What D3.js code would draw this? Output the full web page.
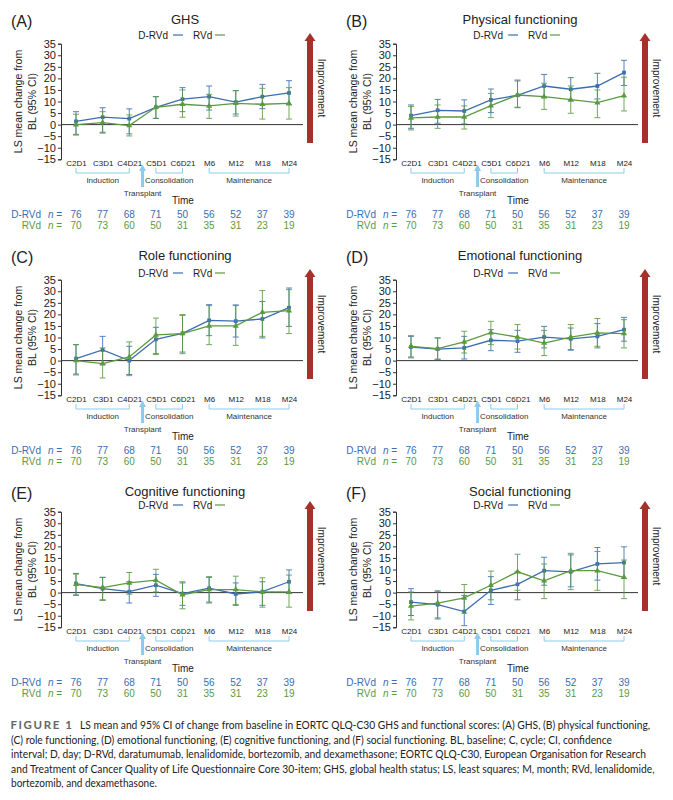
<!DOCTYPE html>
<html><head><meta charset="utf-8">
<script src="https://cdn.jsdelivr.net/npm/d3@7"></script>
<style>
body{margin:0;background:#fff}
svg{display:block;font-family:Arial,"Liberation Sans",sans-serif}
</style>
</head><body>
<svg id="c" width="673" height="800"></svg>
<script>
// ---------------- DATA ----------------
const categories = ["C2D1","C3D1","C4D21","C5D1","C6D21","M6","M12","M18","M24"];
const yTicks = [-15,-10,-5,0,5,10,15,20,25,30,35];
const nDRVd = [76,77,68,71,50,56,52,37,39];
const nRVd  = [70,73,60,50,31,35,31,23,19];
const seriesNames = ["D-RVd","RVd"];
const phaseLabels = ["Induction","Consolidation","Maintenance"];
const phaseFrom   = ["C2D1","C5D1","M6"];
const phaseTo     = ["C4D21","C6D21","M24"];

// (A) GHS
const ghsD    = [1.4,3.2,2.6,7.5,11.0,12.1,9.7,12.1,13.7];
const ghsDLo  = [-4.5,-3.3,-4.0,2.7,5.6,6.3,4.6,6.9,8.5];
const ghsDHi  = [5.6,7.3,6.8,12.1,16.0,16.7,14.7,17.4,19.0];
const ghsR    = [0.0,0.9,-0.4,7.5,8.8,8.1,9.2,8.8,9.2];
const ghsRLo  = [-4.2,-3.7,-4.9,2.7,3.2,2.7,3.7,2.4,2.4];
const ghsRHi  = [4.5,5.6,4.2,12.1,15.0,13.1,14.7,15.7,16.0];
// (B) Physical functioning
const phyD    = [3.9,6.2,5.9,10.7,12.7,16.7,15.3,16.7,22.5];
const phyDLo  = [-1.6,0.6,0.3,5.2,7.5,11.7,10.2,11.1,16.9];
const phyDHi  = [8.5,10.9,10.7,15.4,18.9,21.7,20.3,22.2,27.8];
const phyR    = [2.9,3.3,3.3,8.2,12.8,12.1,10.8,9.5,12.5];
const phyRLo  = [-2.3,-1.6,-1.9,3.0,7.3,6.6,4.9,3.0,5.9];
const phyRHi  = [7.8,8.5,8.1,13.5,19.3,17.9,16.7,15.0,20.5];
// (C) Role functioning
const rolD    = [0.9,4.6,0.0,9.2,11.8,17.4,17.1,18.0,22.9];
const rolDLo  = [-5.8,-1.7,-6.0,3.0,3.7,10.8,10.2,9.8,14.8];
const rolDHi  = [6.9,10.5,6.2,14.4,19.6,24.2,24.1,25.6,31.4];
const rolR    = [0.0,-1.3,1.6,11.1,11.7,15.0,15.0,20.9,21.6];
const rolRLo  = [-6.2,-7.5,-6.5,2.6,3.0,6.9,6.6,10.5,11.7];
const rolRHi  = [6.9,5.5,8.1,18.4,19.9,23.8,23.8,30.3,30.7];
// (D) Emotional functioning
const emoD    = [5.9,5.0,5.5,8.8,8.4,10.2,9.4,10.5,13.4];
const emoDLo  = [1.2,0.4,0.7,4.3,3.6,5.5,4.5,5.5,8.4];
const emoDHi  = [10.5,9.8,10.5,13.4,13.1,14.8,14.1,16.0,18.7];
const emoR    = [6.2,5.2,8.1,12.1,10.2,7.6,10.2,12.0,11.7];
const emoRLo  = [1.6,0.7,3.3,6.9,5.0,2.2,4.8,6.2,5.5];
const emoRHi  = [10.8,9.8,12.7,17.0,15.6,13.1,15.6,18.2,17.7];
// (E) Cognitive functioning
const cogD    = [3.9,1.7,0.4,3.2,-0.4,1.9,-0.6,0.4,4.7];
const cogDLo  = [-1.0,-3.1,-4.5,-1.6,-5.5,-4.1,-5.5,-5.5,-0.4];
const cogDHi  = [8.3,6.6,4.7,7.9,4.2,6.6,4.2,4.7,9.8];
const cogR    = [3.6,2.2,4.2,5.4,-0.9,1.3,1.3,0.3,0.3];
const cogRLo  = [-1.2,-3.4,-0.7,0.3,-7.0,-4.5,-5.1,-6.3,-6.3];
const cogRHi  = [8.0,6.6,8.7,10.1,4.7,6.9,7.1,6.4,7.6];
// (F) Social functioning
const socD    = [-4.1,-5.2,-8.2,1.0,3.6,9.5,9.0,12.4,13.0];
const socDLo  = [-9.9,-11.4,-14.3,-5.1,-3.1,3.2,2.5,5.4,6.1];
const socDHi  = [1.7,0.7,-1.2,6.9,9.0,15.3,16.3,19.5,19.8];
const socR    = [-5.8,-4.5,-2.3,3.2,9.0,5.1,9.5,9.5,6.6];
const socRLo  = [-11.8,-10.9,-8.9,-3.1,1.0,-2.6,1.3,1.0,-2.6];
const socRHi  = [0.3,0.7,3.5,9.3,16.6,12.4,17.0,17.8,14.1];

const panelLetters = ["(A)","(B)","(C)","(D)","(E)","(F)"];
const panelTitles  = ["GHS","Physical functioning","Role functioning","Emotional functioning","Cognitive functioning","Social functioning"];
const panelSeries = [
  [[ghsD,ghsDLo,ghsDHi],[ghsR,ghsRLo,ghsRHi]],
  [[phyD,phyDLo,phyDHi],[phyR,phyRLo,phyRHi]],
  [[rolD,rolDLo,rolDHi],[rolR,rolRLo,rolRHi]],
  [[emoD,emoDLo,emoDHi],[emoR,emoRLo,emoRHi]],
  [[cogD,cogDLo,cogDHi],[cogR,cogRLo,cogRHi]],
  [[socD,socDLo,socDHi],[socR,socRLo,socRHi]]
];

const captionLines = [
  "LS mean and 95% CI of change from baseline in EORTC QLQ-C30 GHS and functional scores: (A) GHS, (B) physical functioning,",
  "(C) role functioning, (D) emotional functioning, (E) cognitive functioning, and (F) social functioning. BL, baseline; C, cycle; CI, confidence",
  "interval; D, day; D-RVd, daratumumab, lenalidomide, bortezomib, and dexamethasone; EORTC QLQ-C30, European Organisation for Research",
  "and Treatment of Cancer Quality of Life Questionnaire Core 30-item; GHS, global health status; LS, least squares; M, month; RVd, lenalidomide,",
  "bortezomib, and dexamethasone."
];

// ---------------- STYLE / LAYOUT ----------------
const colors = ["#3a6db3","#5b9a3f"];
const bracketColor = "#8ccbea";
const arrowRed = "#a5322a";
const colX = [0,335];
const rowY = [0,236,468];
const headShift = [0,0,4];

const svg = d3.select("#c");

panelTitles.forEach((title,i)=>{
  const col = i%2, row = Math.floor(i/2);
  const g = svg.append("g").attr("transform",`translate(${colX[col]},${rowY[row]})`);
  const x = d3.scalePoint().domain(categories).range([76,289]);
  const y = d3.scaleLinear().domain([-15,35]).range([159.3,43.7]);
  const hs = headShift[row];

  // panel letter and title
  g.append("text").attr("x",11).attr("y",26.5+hs).attr("font-size",16).attr("fill","#222").text(panelLetters[i]);
  g.append("text").attr("x",185).attr("y",24+hs).attr("text-anchor","middle").attr("font-size",13).attr("fill","#222").text(title);

  // legend
  const ly = 35+ (row===0?0:2);
  g.append("text").attr("x",168).attr("y",ly+3.5).attr("text-anchor","end").attr("font-size",10).attr("fill","#222").text(seriesNames[0]);
  g.append("line").attr("x1",173).attr("x2",183).attr("y1",ly).attr("y2",ly).attr("stroke",colors[0]).attr("stroke-width",1.2);
  g.append("text").attr("x",193).attr("y",ly+3.5).attr("font-size",10).attr("fill","#222").text(seriesNames[1]);
  g.append("line").attr("x1",215).attr("x2",225).attr("y1",ly).attr("y2",ly).attr("stroke",colors[1]).attr("stroke-width",1.2);

  // y axis
  const ya = g.append("g").attr("transform","translate(61,0)")
    .call(d3.axisLeft(y).tickValues(yTicks).tickSize(3).tickSizeOuter(3).tickPadding(2));
  ya.selectAll("text").attr("font-size",11).attr("fill","#222").attr("font-family","Arial,'Liberation Sans',sans-serif");
  ya.selectAll("line,path").attr("stroke","#333");

  // y-axis title
  const yc = (y(35)+y(-15))/2;
  g.append("text").attr("transform",`translate(21.5,${yc}) rotate(-90)`).attr("text-anchor","middle").attr("font-size",10.5).attr("fill","#222").text("LS mean change from");
  g.append("text").attr("transform",`translate(35.5,${yc}) rotate(-90)`).attr("text-anchor","middle").attr("font-size",10.5).attr("fill","#222").text("BL (95% CI)");

  // zero line
  g.append("line").attr("x1",61).attr("x2",303).attr("y1",y(0)).attr("y2",y(0)).attr("stroke","#333").attr("stroke-width",1);

  // x category labels
  const xa = g.append("g").attr("transform","translate(0,158)").call(d3.axisBottom(x).tickSize(0).tickPadding(2));
  xa.select(".domain").remove();
  xa.selectAll("text").attr("font-size",8).attr("fill","#222").attr("font-family","Arial,'Liberation Sans',sans-serif");

  // phase brackets
  phaseLabels.forEach((lab,k)=>{
    const x0 = x(phaseFrom[k]), x1 = x(phaseTo[k]);
    g.append("path").attr("d",`M${x0},168V173H${x1}V168`).attr("fill","none").attr("stroke",bracketColor).attr("stroke-width",1);
    g.append("text").attr("x",(x0+x1)/2).attr("y",183).attr("text-anchor","middle").attr("font-size",8).attr("fill","#333").text(lab);
  });
  // transplant arrow
  const tx = (x(categories[2])+x(categories[3]))/2;
  g.append("rect").attr("x",tx-1.5).attr("y",170).attr("width",3).attr("height",17).attr("fill",bracketColor);
  g.append("path").attr("d",`M${tx-3.5},171L${tx},164.5L${tx+3.5},171Z`).attr("fill",bracketColor);
  g.append("text").attr("x",tx).attr("y",195.5).attr("text-anchor","middle").attr("font-size",8).attr("fill","#333").text("Transplant");
  g.append("text").attr("x",183).attr("y",204).attr("text-anchor","middle").attr("font-size",10).attr("fill","#222").text("Time");

  // n rows
  [[nDRVd,seriesNames[0],217.5],[nRVd,seriesNames[1],228.5]].forEach(([arr,name,by],s)=>{
    g.append("text").attr("x",41).attr("y",by).attr("text-anchor","end").attr("font-size",10).attr("fill",colors[s]).text(name);
    const t = g.append("text").attr("x",48).attr("y",by).attr("font-size",10).attr("fill",colors[s]);
    t.append("tspan").attr("font-style","italic").text("n");
    t.append("tspan").text(" =");
    g.selectAll(null).data(arr).enter().append("text")
      .attr("x",(d,j)=>x(categories[j])).attr("y",by).attr("text-anchor","middle")
      .attr("font-size",10).attr("fill",colors[s]).text(d=>d);
  });

  // improvement arrow
  g.append("rect").attr("x",307).attr("y",40).attr("width",6).attr("height",103).attr("fill",arrowRed);
  g.append("path").attr("d","M304.5,41L310,33L315.5,41Z").attr("fill",arrowRed);
  g.append("text").attr("transform","translate(318,88) rotate(90)").attr("text-anchor","middle").attr("font-size",10).attr("fill","#222").text("Improvement");

  // series: error bars, lines, markers
  panelSeries[i].forEach(([vals,lo,hi],s)=>{
    const c = colors[s];
    const eb = g.append("g").attr("stroke",c).attr("stroke-width",1).attr("opacity",0.85);
    categories.forEach((cat,j)=>{
      const cx = x(cat);
      eb.append("line").attr("x1",cx).attr("x2",cx).attr("y1",y(lo[j])).attr("y2",y(hi[j]));
      eb.append("line").attr("x1",cx-3).attr("x2",cx+3).attr("y1",y(lo[j])).attr("y2",y(lo[j]));
      eb.append("line").attr("x1",cx-3).attr("x2",cx+3).attr("y1",y(hi[j])).attr("y2",y(hi[j]));
    });
    const line = d3.line().x((d,j)=>x(categories[j])).y(d=>y(d));
    g.append("path").datum(vals).attr("d",line).attr("fill","none").attr("stroke",c).attr("stroke-width",1.3);
    const sym = d3.symbol().type(s===0?d3.symbolSquare:d3.symbolTriangle).size(s===0?14:16);
    g.selectAll(null).data(vals).enter().append("path")
      .attr("transform",(d,j)=>`translate(${x(categories[j])},${y(d)})`)
      .attr("d",sym).attr("fill",c);
  });
});

// caption: keep the glyph height, condense horizontally to the measured line widths
const cap = svg.append("g").attr("font-family","Lato,'Open Sans',sans-serif").attr("fill","#222");
cap.append("text").attr("x",10.5).attr("y",729).attr("font-size",11.5).attr("font-weight","bold")
  .attr("letter-spacing",1.6).attr("fill","#666").text("FIGURE 1");
const capStart = [80,11,11,11,11];
const capEnd   = [651,613,647,655,157];
const capBase  = [729,743.5,758,772.5,787];
captionLines.forEach((ln,k)=>{
  const t = cap.append("text").attr("x",0).attr("y",0).attr("font-size",12).text(ln);
  const w = t.node().getComputedTextLength();
  const r = Math.min(1,(capEnd[k]-capStart[k])/w);
  t.attr("transform",`translate(${capStart[k]},${capBase[k]}) scale(${r},1)`);
});
</script>
</body></html>
